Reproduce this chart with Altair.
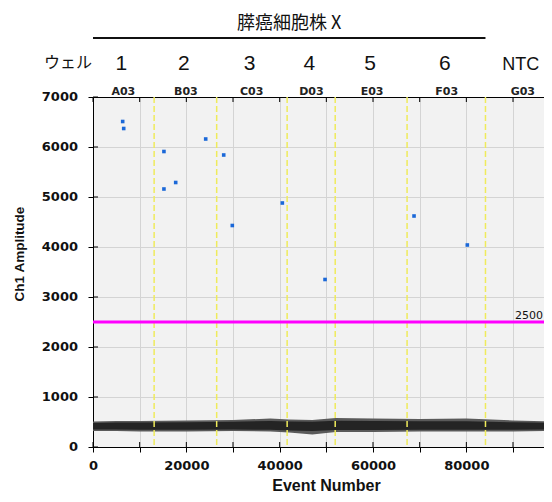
import altair as alt
import pandas as pd

# ---- data ----
well_names = ["A03", "B03", "C03", "D03", "E03", "F03", "G03"]
well_numbers = ["1", "2", "3", "4", "5", "6", "NTC"]
well_number_sizes = [21, 21, 21, 21, 21, 21, 18]
well_centers = [6500, 19900, 34000, 46800, 59800, 75800, 92100]
well_boundaries = [13100, 26500, 41600, 51900, 67300, 84100]

# positive droplets (Event Number, Ch1 Amplitude)
pos_event = [6360, 6580, 15200, 15200, 17720, 24150, 28010, 29850, 40570, 49720, 68790, 80210]
pos_amp = [6510, 6370, 5910, 5160, 5290, 6160, 5840, 4430, 4880, 3350, 4620, 4040]

# negative droplet cloud (read envelope)
band_event = [0, 5000, 10000, 20000, 30000, 38000, 42000, 47000, 52000, 60000, 70000, 80000, 90000, 98500]
band_low = [320, 320, 310, 310, 320, 310, 290, 250, 300, 300, 310, 310, 310, 320]
band_high = [510, 520, 520, 530, 540, 570, 550, 540, 580, 570, 560, 570, 530, 510]
core_low = [350, 350, 345, 345, 350, 345, 330, 320, 340, 340, 345, 345, 345, 350]
core_high = [480, 490, 490, 495, 505, 520, 510, 505, 525, 520, 515, 515, 495, 480]

threshold = [2500]
threshold_label = ["2500"]

x_ticks = [0, 10000, 20000, 30000, 40000, 50000, 60000, 70000, 80000, 90000]
y_ticks = [0, 1000, 2000, 3000, 4000, 5000, 6000, 7000]
y_tick_labels = ["0", "1000", "2000", "3000", "4000", "5000", "6000", "7000"]

group_title = ["膵癌細胞株 X"]
group_start = [0]
group_end = [84100]
group_mid = [42050]

y_title = ["Ch1 Amplitude"]

X_DOMAIN = [0, 96640]
Y_DOMAIN = [0, 7000]
W, H = 451, 350

wells = pd.DataFrame({"name": well_names, "num": well_numbers,
                      "fs": well_number_sizes, "x": well_centers})
bounds = pd.DataFrame({"b": well_boundaries})
pos = pd.DataFrame({"event": pos_event, "amp": pos_amp})
band = pd.DataFrame({"event": band_event, "lo": band_low, "hi": band_high,
                     "clo": core_low, "chi": core_high})
thr = pd.DataFrame({"t": threshold, "lab": threshold_label, "lx": [X_DOMAIN[1]]})
xt = pd.DataFrame({"v": x_ticks})
yt = pd.DataFrame({"v": y_ticks, "lab": y_tick_labels})
grp = pd.DataFrame({"t": group_title, "s": group_start, "e": group_end, "m": group_mid,
                    "yt": y_title})

xs = alt.Scale(domain=X_DOMAIN, nice=False, zero=False)
ys = alt.Scale(domain=Y_DOMAIN, nice=False, zero=False)

bottom_axis = alt.Axis(
    orient="bottom", values=x_ticks, format="d",
    labelExpr="datum.value % 20000 === 0 ? datum.label : ''",
    tickSize=5, tickColor="black", domainColor="black", domainWidth=1,
    grid=True, gridColor="#d4d4d4", gridWidth=1,
    labelFont="DejaVu Sans", labelFontWeight="bold", labelFontSize=13,
    labelColor="#111111", labelPadding=7, labelFlush=False, labelOverlap=False,
    title="Event Number", titleFont="Liberation Sans", titleFontSize=16,
    titleFontWeight="bold", titleColor="#111111",
    titleX=233, titleY=38, titleBaseline="middle", titleAlign="center",
)
# the same y axis definition is given to every layer with a y field so
# that they merge into a single shared axis (labels drawn as a text layer)
left_axis = alt.Axis(
    orient="left", values=y_ticks, labels=False,
    tickSize=5, tickColor="black", domainColor="black", domainWidth=1,
    grid=True, gridColor="#d4d4d4", gridWidth=1,
    title=None,
)
top_axis = alt.Axis(orient="top", labels=False, ticks=False, grid=False,
                    domain=True, domainColor="black", domainWidth=1, title=None)


def Y(field):
    return alt.Y(field, scale=ys, axis=left_axis)


# layer that carries the main axes
axes_layer = alt.Chart(pos).mark_point(opacity=0, size=1).encode(
    x=alt.X("event:Q", scale=xs, axis=bottom_axis),
    y=Y("amp:Q"),
)
band_outer = alt.Chart(band).mark_area(color="#5a5a5a", opacity=1, clip=True).encode(
    x=alt.X("event:Q", scale=xs, axis=None),
    y=Y("lo:Q"),
    y2="hi:Q",
)
band_core = alt.Chart(band).mark_area(color="#242424", opacity=1, clip=True).encode(
    x=alt.X("event:Q", scale=xs, axis=None),
    y=Y("clo:Q"),
    y2="chi:Q",
)
well_lines = alt.Chart(bounds).mark_rule(color="#efeb5c", strokeWidth=1.5,
                                         strokeDash=[6, 3]).encode(
    x=alt.X("b:Q", scale=xs, axis=None),
)
thr_line = alt.Chart(thr).mark_rule(color="#ff00ff", strokeWidth=3).encode(
    y=Y("t:Q"),
)
thr_text = alt.Chart(thr).mark_text(align="right", baseline="alphabetic", dy=-3, dx=-1,
                                    font="DejaVu Sans", fontSize=11,
                                    color="#111111").encode(
    x=alt.X("lx:Q", scale=xs, axis=None),
    y=Y("t:Q"),
    text="lab:N",
)
points = alt.Chart(pos).mark_square(size=13, color="#1b68d8", opacity=1).encode(
    x=alt.X("event:Q", scale=xs, axis=None),
    y=Y("amp:Q"),
)
# inward halves of the tick marks
x_in_bottom = alt.Chart(xt).mark_rule(color="black", strokeWidth=1).encode(
    x=alt.X("v:Q", scale=xs, axis=None), y=alt.value(H - 5), y2=alt.value(H))
x_in_top = alt.Chart(xt).mark_rule(color="black", strokeWidth=1).encode(
    x=alt.X("v:Q", scale=xs, axis=None), y=alt.value(0), y2=alt.value(5))
y_in_left = alt.Chart(yt).mark_rule(color="black", strokeWidth=1).encode(
    y=Y("v:Q"), x=alt.value(0), x2=alt.value(5))
# y tick labels
y_labels = alt.Chart(yt).mark_text(align="right", baseline="middle",
                                   font="DejaVu Sans", fontWeight="bold",
                                   fontSize=13, color="#111111").encode(
    y=Y("v:Q"), x=alt.value(-15), text="lab:N")

# y axis title as text
y_title_text = alt.Chart(grp).mark_text(angle=270, baseline="middle", align="center",
                                        font="Liberation Sans", fontWeight="bold",
                                        fontSize=13.5, color="#111111").encode(
    x=alt.value(-73), y=alt.value(157), text="yt:N",
)

# top annotations
well_text = alt.Chart(wells).mark_text(baseline="alphabetic",
                                       font="DejaVu Sans", fontWeight="bold",
                                       fontSize=11, color="#222222").encode(
    x=alt.X("x:Q", scale=xs, axis=top_axis),
    y=alt.value(-2.5),
    text="name:N",
)
num_text = alt.Chart(wells).mark_text(baseline="alphabetic", dx=-2,
                                      font="Liberation Sans", color="#111111").encode(
    x=alt.X("x:Q", scale=xs, axis=None),
    y=alt.value(-27),
    size=alt.Size("fs:Q", scale=None, legend=None),
    text="num:N",
)
ueru_text = alt.Chart(grp).mark_text(baseline="alphabetic", align="center",
                                     font="Noto Sans CJK JP", fontSize=16,
                                     color="#111111", text="ウェル").encode(
    x=alt.value(-25), y=alt.value(-29),
)
bracket = alt.Chart(grp).mark_rule(color="#111111", strokeWidth=2).encode(
    x=alt.X("s:Q", scale=xs, axis=None), x2="e:Q", y=alt.value(-59),
)
title_text = alt.Chart(grp).mark_text(baseline="alphabetic", align="center",
                                      font="Noto Sans CJK JP", fontSize=18,
                                      color="#111111").encode(
    x=alt.X("m:Q", scale=xs, axis=None), y=alt.value(-68), text="t:N",
)

chart = alt.layer(
    axes_layer, band_outer, band_core, well_lines, thr_line, thr_text, points,
    x_in_bottom, x_in_top, y_in_left, y_labels, y_title_text,
    well_text, num_text, ueru_text, bracket, title_text,
).resolve_axis(x="independent", y="shared").properties(
    width=W, height=H,
    padding={"left": 85, "top": 89, "right": 0, "bottom": 47},
    autosize=alt.AutoSizeParams(type="none"),
    background="white",
).configure_view(fill="#f2f2f2", stroke=None)

chart.save("out.html", embed_options={"renderer": "svg", "actions": False})
